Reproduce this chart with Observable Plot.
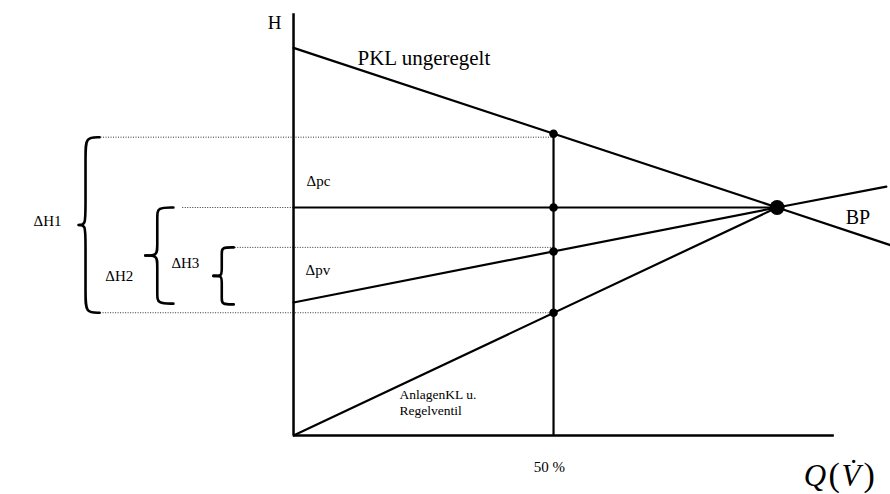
<!DOCTYPE html>
<html><head><meta charset="utf-8">
<script src="https://cdn.jsdelivr.net/npm/d3@7"></script>
<script src="https://cdn.jsdelivr.net/npm/@observablehq/plot@0.6"></script>
<style>body{margin:0;background:#fff}</style>
</head><body><div id="chart"></div>
<script>
// Pump curve (PKL ungeregelt): Q in % of flow, H relative head
const pumpQ = [0, 93, 115];
const pumpH = [102, 60, 50];
// Throttled characteristic (Δpv line)
const valveQ = [0, 93, 114];
const valveH = [35, 60, 65.5];
// System curve incl. control valve
const systemQ = [0, 93];
const systemH = [0, 60];
// Operating point BP
const bpQ = 93, bpH = 60;
// Points at 50 % flow
const halfQ = 50;
const halfH = [79.4, 60, 48.4, 32.3];
// Dotted reference levels (H) with start and end Q
const refH = [78.5, 60, 49.5, 32.3];
const refQ1 = [-37.5, -21.3, -11.2, -37.1];
const refQ2 = [50, 0, 50, 50];
// Braces: top H, bottom H, tip Q, vertical Q, end Q
const braceLabels = ["ΔH1", "ΔH2", "ΔH3"];
const braceTop = [78.5, 60, 49.5];
const braceBot = [32.3, 34.7, 34.5];
const braceTip = [-41.3, -28.5, -15.4];
const braceVert = [-40.0, -26.2, -13.8];
const braceEnd = [-37.3, -23.1, -11.5];
const braceLabelQ = [-47.3, -33.5, -20.8];
const braceLabelH = [56.3, 41.8, 45.3];
const braceAnchor = ["end", "middle", "middle"];
// Axis label pieces: Q(V̇)
const axisParts = ["Q", "(", "V̇", ")"];
const axisPartQ = [98.1, 102.9, 105.4, 109.6];
const axisPartSize = [31, 34, 31, 34];
const axisPartStyle = ["italic", "normal", "italic", "normal"];

const pts = (qs, hs, name) => qs.map((q, i) => ({Q: q, H: hs[i], name}));
const curves = [
  ...pts(pumpQ, pumpH, "pump"),
  ...pts(valveQ, valveH, "valve"),
  ...pts(systemQ, systemH, "system")
];
const refs = refH.map((h, i) => ({H: h, Q1: refQ1[i], Q2: refQ2[i]}));
const braces = [];
braceLabels.forEach((lab, i) => {
  const top = braceTop[i], bot = braceBot[i], mid = (top + bot) / 2;
  const d = (top - bot) * 0.09;
  const v = braceVert[i], e = braceEnd[i], t = braceTip[i];
  const up = [[e, top], [v, top], [v, top - d], [v, mid + d], [v, mid], [t, mid]];
  const lo = [[e, bot], [v, bot], [v, bot + d], [v, mid - d], [v, mid], [t, mid]];
  up.forEach(([q, h]) => braces.push({Q: q, H: h, k: lab + "u"}));
  lo.forEach(([q, h]) => braces.push({Q: q, H: h, k: lab + "l"}));
});
const braceText = braceLabels.map((l, i) => ({l, Q: braceLabelQ[i], H: braceLabelH[i], a: braceAnchor[i]}));

const font = "'Liberation Serif', 'Times New Roman', serif";
const axisMarks = axisParts.map((p, i) =>
  Plot.text([p], {x: axisPartQ[i], y: -13.2, textAnchor: "start", lineAnchor: "bottom",
    fontSize: axisPartSize[i], fontStyle: axisPartStyle[i]}));

const chart = Plot.plot({
  width: 890, height: 494, margin: 0,
  x: {domain: [-56.35, 114.8], axis: null},
  y: {domain: [-15.53, 114.47], axis: null},
  style: {fontFamily: font, background: "#fff", color: "#000"},
  marks: [
    // dotted reference lines
    Plot.ruleY(refs, {y: "H", x1: "Q1", x2: "Q2", stroke: "#333", strokeWidth: 1, strokeDasharray: "1,1.5"}),
    // axes
    Plot.ruleX([0], {y1: 0, y2: 111, stroke: "#000", strokeWidth: 2.5}),
    Plot.ruleY([0], {x1: 0, x2: 104, stroke: "#000", strokeWidth: 2.5}),
    // vertical at 50 %
    Plot.ruleX([halfQ], {y1: 0, y2: halfH[0], stroke: "#000", strokeWidth: 2.2}),
    // horizontal Δpc line
    Plot.ruleY([bpH], {x1: 0, x2: bpQ, stroke: "#000", strokeWidth: 2.2}),
    // curves
    Plot.line(curves, {x: "Q", y: "H", z: "name", stroke: "#000", strokeWidth: 2.2}),
    // braces
    Plot.line(braces, {x: "Q", y: "H", z: "k", curve: "basis", stroke: "#000", strokeWidth: 2.6, strokeLinecap: "round"}),
    // points
    Plot.dot(halfH, {x: () => halfQ, y: d => d, r: 4.3, fill: "#000"}),
    Plot.dot([{Q: bpQ, H: bpH}], {x: "Q", y: "H", r: 7.5, fill: "#000"}),
    // labels
    Plot.text(["H"], {x: -3.65, y: 108.7, fontSize: 19}),
    Plot.text(["PKL ungeregelt"], {x: 12.3, y: 99.2, textAnchor: "start", fontSize: 21}),
    Plot.text(["Δpc"], {x: 2.5, y: 66.8, textAnchor: "start", fontSize: 15}),
    Plot.text(["Δpv"], {x: 2.3, y: 43.4, textAnchor: "start", fontSize: 15}),
    Plot.text(braceText, {x: "Q", y: "H", text: "l", textAnchor: "a", fontSize: 15}),
    Plot.text(["BP"], {x: 106.2, y: 57.4, textAnchor: "start", fontSize: 20}),
    Plot.text(["AnlagenKL u.\nRegelventil"], {x: 20.4, y: 8.8, textAnchor: "start", fontSize: 13.5, lineHeight: 1.15}),
    Plot.text(["50 %"], {x: 49.2, y: -8.4, fontSize: 15}),
    ...axisMarks
  ]
});
document.getElementById("chart").appendChild(chart);
</script>
</body></html>
